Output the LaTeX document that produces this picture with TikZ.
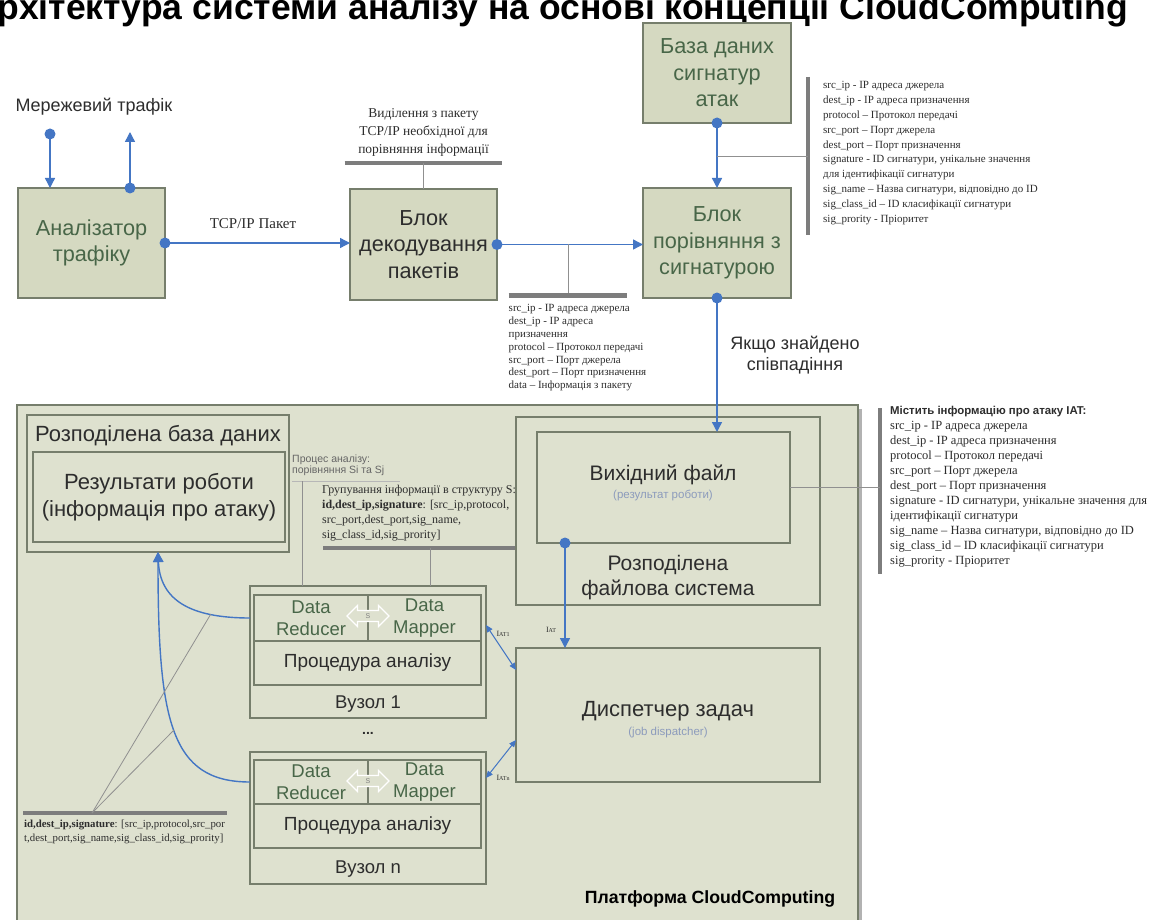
\documentclass[tikz,border=0pt]{standalone}
\usepackage{fontspec}
\setmainfont{Liberation Serif}
\newfontfamily\arial{Liberation Sans}
\usetikzlibrary{arrows.meta,shapes.arrows,calc}

\definecolor{boxfill}{RGB}{213,217,193}
\definecolor{platfill}{RGB}{222,225,207}
\definecolor{edge}{RGB}{118,126,108}
\definecolor{greentext}{RGB}{72,102,72}
\definecolor{darktext}{RGB}{45,45,45}
\definecolor{flow}{RGB}{68,118,196}
\definecolor{barcol}{RGB}{125,125,125}
\definecolor{hint}{RGB}{140,155,188}

\tikzset{
  blk/.style={draw=edge, line width=1.3pt, fill=boxfill, inner sep=0pt, outer sep=0pt,
    anchor=north west, align=center},
  frame/.style={draw=edge, line width=1.3pt, fill=platfill, inner sep=0pt, outer sep=0pt,
    anchor=north west, align=center},
  bigtxt/.style={font=\arial\fontsize{21.7}{26.5}\selectfont},
  midtxt/.style={font=\arial\fontsize{22}{27}\selectfont, text=darktext},
  flowline/.style={draw=flow, line width=1.4pt},
  flowarrow/.style={flowline, -{Triangle[length=10pt,width=10pt]}},
  iatarrow/.style={flowline, line width=1pt, {Triangle[length=7pt,width=6pt]}-{Triangle[length=7pt,width=6pt]}},
  dot/.style={circle, fill=flow, inner sep=0pt, minimum size=11pt},
  bar/.style={draw=barcol, line width=4.5pt},
  tick/.style={draw=barcol!85, line width=0.8pt},
  listtxt/.style={anchor=north west, align=left, inner sep=0pt, text=darktext},
}

\begin{document}
\begin{tikzpicture}[x=1pt,y=-1pt]
\fill[white] (0,0) rectangle (1149,920);
\useasboundingbox (0,0) rectangle (1149,920);
\clip (0,0) rectangle (1149,920);

% heading (runs past the top and left edges of the page)
\node[font=\arial\bfseries\fontsize{35.5}{35.5}\selectfont, anchor=base, text=black] (title)
  at (550,20) {Архітектура системи аналізу на основі концепції CloudComputing};

% ---------- upper chain ----------
\node[anchor=base west, font=\arial\fontsize{18}{18}\selectfont, text=darktext] (nettxt)
  at (12,112) {Мережевий трафік};

\node[blk, bigtxt, text=greentext, minimum width=147pt, minimum height=110pt] (an)
  at (18,188) {Аналізатор\\трафіку};
\node[blk, bigtxt, text=darktext, minimum width=147pt, minimum height=111pt] (dec)
  at (350,189) {Блок\\декодування\\пакетів};
\node[blk, bigtxt, text=greentext, minimum width=148pt, minimum height=110pt] (cmp)
  at (643,188) {Блок\\порівняння з\\сигнатурою};
\node[blk, bigtxt, text=greentext, minimum width=148pt, minimum height=100pt] (db)
  at (643,23) {База даних\\сигнатур\\атак};

% network traffic in / out
\path (an.north west) ++(32,-54) coordinate (netin);
\path (an.north west) ++(112,-56) coordinate (netout);
\node[dot] (netindot) at (netin) {};
\draw[flowarrow] (netindot.center) -- (netin |- an.north);
\node[dot] (netoutdot) at (an.north -| netout) {};
\draw[flowarrow] (netoutdot.center) -- (netout);

% TCP/IP packet
\node[dot] (andot) at (an.east) {};
\draw[flowarrow] (andot.center) -- (an.east -| dec.west);
\node[anchor=base, font=\fontsize{15}{15}\selectfont, text=darktext] (tcplbl)
  at (253,229) {TCP/IP Пакет};

% note above the decoder
\path (dec.north) ++(0,-26) coordinate (decbar);
\draw[bar] ($(decbar)+(-79,0)$) -- ($(decbar)+(78,0)$);
\draw[tick] (decbar) -- (dec.north);
\node[anchor=south, align=center, inner sep=0pt, font=\fontsize{13.5}{18}\selectfont, text=darktext]
  (decnote) at ($(decbar)+(0,-6)$) {Виділення з пакету\\ТСР/IP необхідної для\\порівняння інформації};

% decoder -> comparison
\node[dot] (decdot) at (dec.east) {};
\draw[flowarrow] (decdot.center) -- (dec.east -| cmp.west);
\coordinate (midbr) at ($(dec.east)!0.49!(dec.east -| cmp.west)$);
\path (midbr) ++(0,51) coordinate (midbar);
\draw[tick] (midbr) -- (midbar);
\draw[bar] ($(midbar)+(-60,0)$) -- ($(midbar)+(58,0)$);
\node[listtxt, font=\fontsize{11}{12.8}\selectfont] (pktlist) at ($(midbar)+(-60,9)$)
  {src\_ip - IP адреса джерела\\dest\_ip - IP адреса\\призначення\\protocol – Протокол передачі\\
   src\_port – Порт джерела\\dest\_port – Порт призначення\\data – Інформація з пакету};

% signature DB -> comparison
\node[dot] (dbdot) at (db.south) {};
\draw[flowarrow] (dbdot.center) -- (cmp.north);
\coordinate (sigbr) at ($(db.south)!0.52!(cmp.north)$);
\coordinate (sigbarT) at (808,77);
\coordinate (sigbarB) at (808,235);
\draw[bar] (sigbarT) -- (sigbarB);
\draw[tick] (sigbr) -- (sigbr -| sigbarT);
\node[listtxt, font=\fontsize{11}{14.9}\selectfont] (siglist) at (823,81)
  {src\_ip - IP адреса джерела\\dest\_ip - IP адреса призначення\\protocol – Протокол передачі\\
   src\_port – Порт джерела\\dest\_port – Порт призначення\\signature - ID сигнатури, унікальне значення\\
   для ідентифікації сигнатури\\sig\_name – Назва сигнатури, відповідно до ID\\
   sig\_class\_id – ID класифікації сигнатури\\sig\_prority - Пріоритет};

% ---------- CloudComputing platform ----------
\fill[black!30] (21,409) rectangle (862,930);
\node[frame, minimum width=841pt, minimum height=530pt] (plat) at (17,405) {};
\node[anchor=base, font=\arial\bfseries\fontsize{17.7}{17.7}\selectfont, text=black] (platlbl)
  at (710,903) {Платформа CloudComputing};

% distributed database
\node[frame, minimum width=262pt, minimum height=137pt] (ddb) at (27,415) {};
\node[anchor=base, midtxt] (ddbt) at (158,441) {Розподілена база даних};
\node[frame, midtxt, minimum width=252pt, minimum height=90pt] (res) at (33,452)
  {Результати роботи\\(інформація про атаку)};

% distributed file system
\node[frame, minimum width=304pt, minimum height=188pt] (fs) at (516,417) {};
\node[frame, minimum width=253pt, minimum height=111pt] (fsin) at (537,432) {};
\node[anchor=base, font=\arial\fontsize{21}{21}\selectfont, text=darktext] (outf) at (663,480) {Вихідний файл};
\node[anchor=base, font=\arial\fontsize{11.5}{11.5}\selectfont, text=hint] (outfh) at (663,498) {(результат роботи)};
\node[anchor=north, align=center, inner sep=0pt, font=\arial\fontsize{21}{25}\selectfont, text=darktext] (fslbl)
  at (668,555) {Розподілена\\файлова система};

% comparison -> output file
\node[dot] (cmpdot) at (cmp.south) {};
\draw[flowarrow] (cmpdot.center) -- (cmp.south |- fsin.north);
\node[anchor=north, align=center, inner sep=0pt, font=\arial\fontsize{18}{21}\selectfont, text=darktext]
  (matchlbl) at (795,336) {Якщо знайдено\\співпадіння};

% output file description
\coordinate (iatbarT) at (880,408);
\coordinate (iatbarB) at (880,574);
\draw[bar] (iatbarT) -- (iatbarB);
\draw[tick] (fsin.east) -- (fsin.east -| iatbarT);
\node[listtxt, font=\fontsize{12.5}{15}\selectfont] (iatlist) at (890,406)
  {{\arial\bfseries\fontsize{11.4}{11.4}\selectfont Містить інформацію про атаку IAT:}\\
   src\_ip - IP адреса джерела\\dest\_ip - IP адреса призначення\\protocol – Протокол передачі\\
   src\_port – Порт джерела\\dest\_port – Порт призначення\\signature - ID сигнатури, унікальне значення для\\
   ідентифікації сигнатури\\sig\_name – Назва сигнатури, відповідно до ID\\
   sig\_class\_id – ID класифікації сигнатури\\sig\_prority - Пріоритет};

% job dispatcher
\node[frame, minimum width=304pt, minimum height=134pt] (disp) at (516,648) {};
\node[anchor=base, font=\arial\fontsize{22}{22}\selectfont, text=darktext] (displ) at (668,716) {Диспетчер задач};
\node[anchor=base, font=\arial\fontsize{11.5}{11.5}\selectfont, text=hint] (disph) at (668,735) {(job dispatcher)};

\path (fsin.south west) ++(28,0) coordinate (fsdotpt);
\node[dot] (fsdot) at (fsdotpt) {};
\draw[flowarrow] (fsdot.center) -- (fsdotpt |- disp.north);
\node[anchor=base, font=\fontsize{8}{8}\selectfont, text=darktext] (iatlbl) at (551,632) {I{\fontsize{6}{6}\selectfont AT}};

% ---------- worker nodes ----------
\tikzset{
  cell/.style={frame, font=\arial\fontsize{18.5}{21.5}\selectfont, text=greentext},
  proc/.style={frame, font=\arial\fontsize{19}{19}\selectfont, text=darktext, minimum width=227pt, minimum height=44pt},
  sarrow/.style={double arrow, double arrow head extend=5pt, draw=white, line width=1.1pt,
    fill=platfill, inner sep=2.5pt, minimum height=42pt, font=\arial\fontsize{7}{7}\selectfont, text=gray},
  nodelbl/.style={font=\arial\fontsize{18.5}{18.5}\selectfont, text=darktext},
}
% node 1
\node[frame, minimum width=236pt, minimum height=132pt] (n1) at (250,586) {};
\node[cell, minimum width=114pt, minimum height=46pt] (red1) at (254,595) {Data\\Reducer};
\node[cell, minimum width=113pt, minimum height=46pt] (map1) at (368,595) {Data\\Mapper};
\node[proc] (proc1) at (254,641) {Процедура аналізу};
\node[nodelbl] (lbl1) at (368,704) {Вузол 1};
\node[sarrow] (s1) at (368,616) {S};

\node[font=\arial\bfseries\fontsize{14}{14}\selectfont, text=darktext] (dots) at (368,733) {...};

% node n
\node[frame, minimum width=236pt, minimum height=132pt] (nn) at (250,752) {};
\node[cell, minimum width=114pt, minimum height=44pt] (redn) at (254,760) {Data\\Reducer};
\node[cell, minimum width=113pt, minimum height=44pt] (mapn) at (368,760) {Data\\Mapper};
\node[proc] (procn) at (254,804) {Процедура аналізу};
\node[nodelbl] (lbln) at (368,869) {Вузол n};
\node[sarrow] (sn) at (368,781) {S};

% IAT exchange with the dispatcher
\path (n1.north east) ++(0,39) coordinate (iat1a);
\path (disp.north west) ++(0,22) coordinate (iat1b);
\draw[iatarrow] (iat1a) -- (iat1b);
\node[anchor=base, font=\fontsize{8}{8}\selectfont, text=darktext] (iat1l) at (503,636) {I{\fontsize{6}{6}\selectfont AT1}};
\path (nn.north east) ++(0,26) coordinate (iatna);
\path (disp.north west) ++(0,92) coordinate (iatnb);
\draw[iatarrow] (iatna) -- (iatnb);
\node[anchor=base, font=\fontsize{8}{8}\selectfont, text=darktext] (iatnl) at (503,780) {I{\fontsize{6}{6}\selectfont ATn}};

% results to the distributed database
\draw[flowarrow] (n1.west |- red1.west) .. controls (190,618) and (160,600) .. (ddb.south)
  coordinate[pos=0.25] (k1);
\draw[flowarrow] (nn.west |- redn.west) .. controls (170,782) and (158,720) .. (ddb.south)
  coordinate[pos=0.5] (k2);

% structure note, lower left
\coordinate (lbarL) at (23,813);
\coordinate (lbarR) at (227,813);
\coordinate (fan) at (92,813);
\draw[bar] (lbarL) -- (lbarR);
\draw[tick] (fan) -- (k1);
\draw[tick] (fan) -- (k2);
\node[listtxt, font=\fontsize{10.8}{14}\selectfont] (snote) at (24,820)
  {\textbf{id,dest\_ip,signature}: [src\_ip,protocol,src\_por\\t,dest\_port,sig\_name,sig\_class\_id,sig\_prority]};

% analysis process note
\node[listtxt, font=\arial\fontsize{10.5}{11}\selectfont, text=black!60] (procnote) at (292,455)
  {Процес аналізу:\\порівняння Si та Sj};
\coordinate (pnL) at (292,481);
\coordinate (pnR) at (400,481);
\draw[tick, draw=barcol!55] (pnL) -- (pnR);
\path (pnL) ++(10,0) coordinate (pnTap);
\draw[tick] (pnTap) -- (pnTap |- n1.north);

% grouping note
\node[listtxt, font=\fontsize{12}{15}\selectfont] (grpnote) at (322,485)
  {Групування інформації в структуру S:\\\textbf{id,dest\_ip,signature}: [src\_ip,protocol,\\
   src\_port,dest\_port,sig\_name,\\sig\_class\_id,sig\_prority]};
\coordinate (gbL) at (323,548);
\coordinate (gbR) at (515,548);
\draw[bar] (gbL) -- (gbR);
\path (gbL) ++(107,0) coordinate (gbTap);
\draw[tick] (gbTap) -- (gbTap |- n1.north);

\end{tikzpicture}
\end{document}
